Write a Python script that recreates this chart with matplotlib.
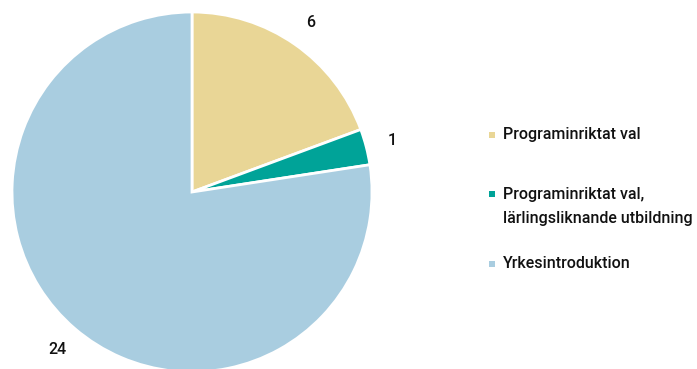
import matplotlib
matplotlib.use("Agg")
import matplotlib.pyplot as plt
from matplotlib.patches import Rectangle

# Data
categories = ["Programinriktat val",
              "Programinriktat val,\nlärlingsliknande utbildning",
              "Yrkesintroduktion"]
values = [6, 1, 24]
colors = ["#E9D696", "#00A398", "#A9CDE0"]

W, H = 697, 369
plt.rcParams["font.family"] = ["Roboto", "DejaVu Sans"]

fig = plt.figure(figsize=(W / 100, H / 100), dpi=100)

# pie centre at (192, 192) px, radius 180 px
cx, cy, r = 192, 192, 180
ax = fig.add_axes([(cx - r) / W, (H - cy - r) / H, 2 * r / W, 2 * r / H])
wedges, texts = ax.pie(values, labels=[str(v) for v in values], colors=colors,
                       startangle=90, counterclock=False, radius=1,
                       labeldistance=1.15,
                       wedgeprops=dict(edgecolor="white", linewidth=2),
                       textprops=dict(fontsize=11.5, color="#111111",
                                      fontweight="medium"))
for t in texts:
    t.set_ha("center")
    t.set_va("center")
ax.set_xlim(-1, 1)
ax.set_ylim(-1, 1)
ax.set_aspect("equal")
ax.axis("off")
for w in wedges:
    w.set_clip_on(False)

# legend drawn by hand to match the uneven spacing
rows_y = [135, 194, 264]
for lab, col, y in zip(categories, colors, rows_y):
    fig.patches.append(Rectangle((489 / W, (H - y - 3) / H), 6 / W, 6 / H,
                                 transform=fig.transFigure, facecolor=col,
                                 edgecolor="none"))
    if "\n" in lab:
        fig.text(503 / W, (H - y + 7) / H, lab, fontsize=11.5, color="#111111",
                 va="top", ha="left", linespacing=1.75, fontweight="medium")
    else:
        fig.text(503 / W, (H - y) / H, lab, fontsize=11.5, color="#111111",
                 va="center", ha="left", fontweight="medium")

fig.savefig("out.png", dpi=100)
